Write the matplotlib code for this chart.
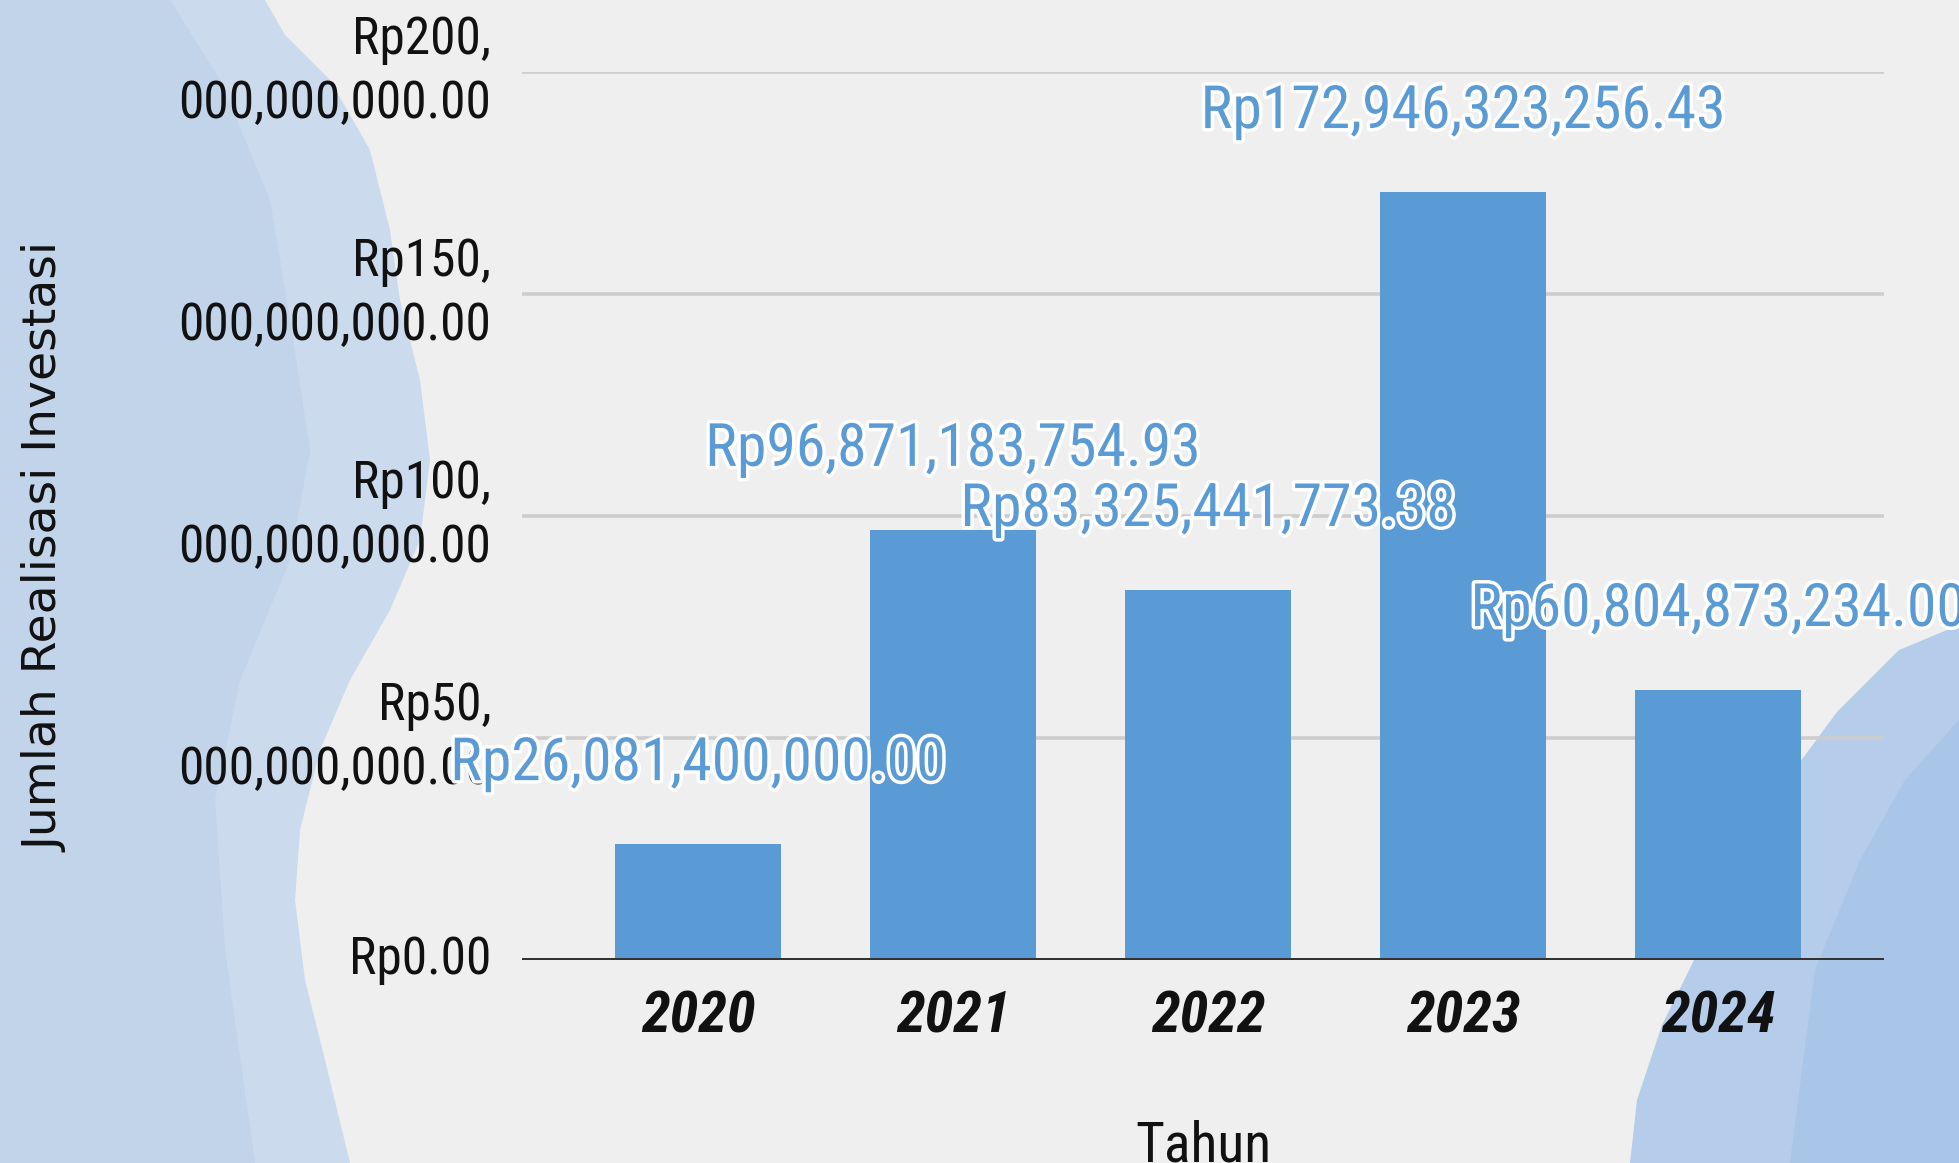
import matplotlib
matplotlib.use("Agg")
import matplotlib.pyplot as plt
import matplotlib.patheffects as pe
from matplotlib.patches import Polygon
from matplotlib.ticker import FuncFormatter, MultipleLocator

years = ["2020", "2021", "2022", "2023", "2024"]
investasi = [26081400000.00, 96871183754.93, 83325441773.38, 172946323256.43, 60804873234.00]
label_texts = ["Rp26,081,400,000.00", "Rp96,871,183,754.93", "Rp83,325,441,773.38",
               "Rp172,946,323,256.43", "Rp60,804,873,234.00"]

W, H = 1959, 1163
bar_color = "#5b9bd5"
cond = "Roboto Condensed"

fig = plt.figure(figsize=(W / 100, H / 100), dpi=100, facecolor="#efefef")


def px(points):
    # pixel coords (from top-left) -> figure fraction
    return [(x / W, 1 - y / H) for x, y in points]


# watercolour blobs in the background
left_blob = [(0, 0), (265, 0), (285, 35), (330, 80), (370, 150), (390, 230), (400, 300),
             (420, 380), (430, 460), (420, 540), (390, 610), (350, 680), (320, 750),
             (300, 830), (295, 900), (305, 980), (325, 1060), (350, 1163), (0, 1163)]
left_inner = [(0, 0), (170, 0), (220, 80), (270, 200), (290, 320), (310, 450), (290, 560),
              (240, 680), (215, 800), (225, 950), (255, 1163), (0, 1163)]
right_blob = [(1959, 625), (1899, 650), (1837, 712), (1800, 762), (1749, 850), (1699, 950),
              (1662, 1025), (1637, 1100), (1630, 1163), (1959, 1163)]
right_inner = [(1959, 720), (1905, 780), (1860, 860), (1815, 970), (1790, 1163), (1959, 1163)]
for pts, col in [(left_blob, "#cbdaec"), (left_inner, "#c2d4ea"),
                 (right_blob, "#b5cdea"), (right_inner, "#a9c5e8")]:
    fig.add_artist(Polygon(px(pts), closed=True, transform=fig.transFigure,
                           facecolor=col, edgecolor="none", zorder=-5))

ax = fig.add_axes([522 / W, 203 / H, 1362 / W, 888 / H])
ax.set_facecolor("none")
for s in ax.spines.values():
    s.set_visible(False)

x = range(len(years))
bars = ax.bar(x, investasi, width=0.65, color=bar_color, zorder=2)
ax.axhline(0, color="#333333", lw=3.6, zorder=3)

ax.set_xlim(-0.69, 4.65)
ax.set_ylim(0, 200e9)
ax.yaxis.set_major_locator(MultipleLocator(50e9))
ax.yaxis.grid(True, color="#cdcdcd", lw=2.6, zorder=0)
ax.set_axisbelow(True)


def rupiah(v, pos):
    s = "Rp{:,.2f}".format(v)
    if v == 0:
        return s
    head, tail = s.split(",", 1)
    return head + ",\n" + tail


ax.yaxis.set_major_formatter(FuncFormatter(rupiah))
ax.tick_params(axis="y", length=0, pad=22)
ax.tick_params(axis="x", length=0, pad=21)
for t in ax.get_yticklabels():
    t.set_fontfamily(cond)
    t.set_fontsize(37)
    t.set_linespacing(1.35)
    t.set_multialignment("right")
    t.set_verticalalignment("center")
    t.set_color("#111111")

ax.set_xticks(list(x))
ax.set_xticklabels(years, fontfamily=cond, fontsize=42, fontweight="bold",
                   fontstyle="italic", color="#111111")

for xi, v, txt in zip(x, investasi, label_texts):
    ax.annotate(txt, (xi, v), xytext=(0, 58), textcoords="offset points",
                ha="center", va="center", fontfamily=cond, fontsize=43,
                fontweight="normal", color=bar_color, zorder=5, annotation_clip=False,
                path_effects=[pe.withStroke(linewidth=5, foreground="white")])

fig.text(1203 / W, 1 - 1146 / H, "Tahun", ha="center", va="center",
         fontfamily=cond, fontsize=40, color="#111111")
fig.text(46 / W, 1 - 547 / H, "Jumlah Realisasi Investasi", rotation=90,
         ha="center", va="center", fontfamily="DejaVu Sans", fontsize=34, color="#111111")

fig.savefig("out.png", facecolor=fig.get_facecolor())
